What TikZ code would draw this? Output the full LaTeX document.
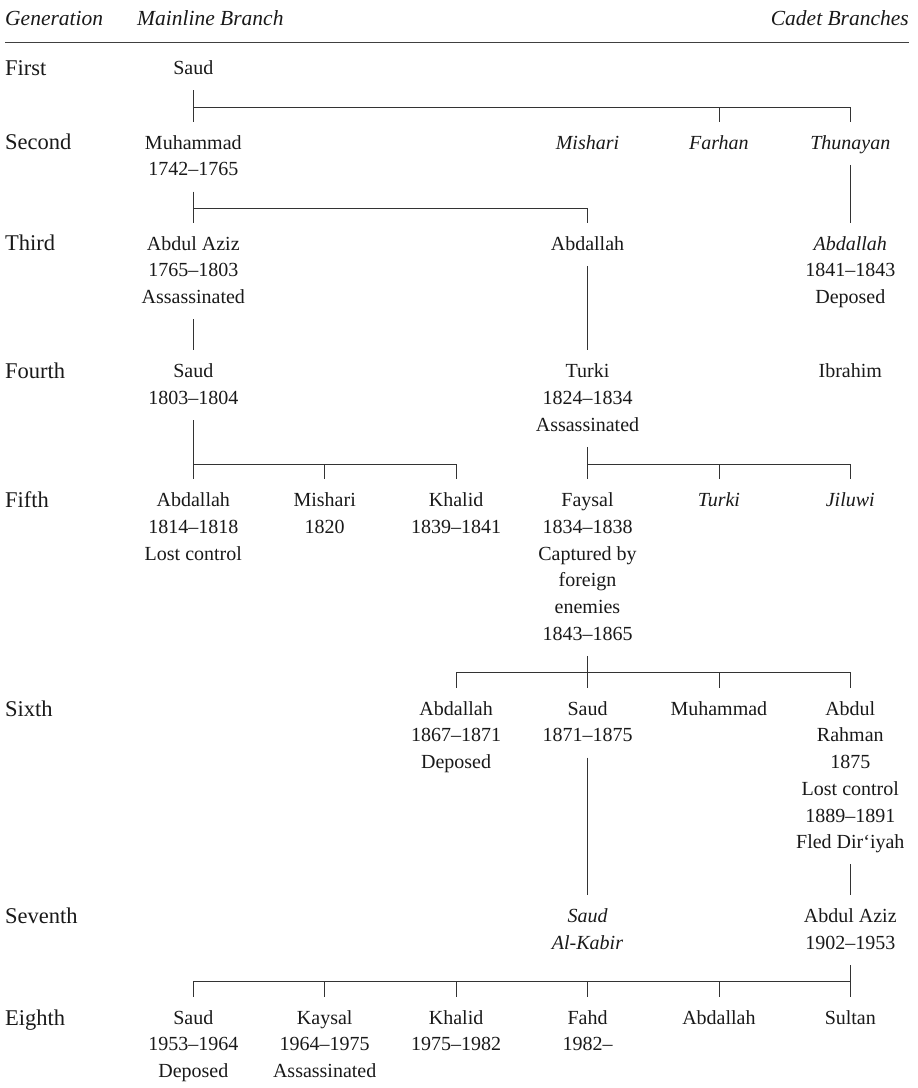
\documentclass[tikz,border=0pt]{standalone}
\usepackage{fontspec}
\setmainfont{Liberation Serif}
\begin{document}
\begin{tikzpicture}[x=1pt,y=-1pt]
\tikzset{
  conn/.style={draw=black!80, line width=0.8pt},
  toprule/.style={draw=black!75, line width=1.4pt},
  person/.style={anchor=north, align=center, inner sep=0pt, yshift=12.2pt,
    font=\fontsize{20}{26.7}\selectfont, text=black!90,
    execute at begin node=\strut, execute at end node=\strut},
  ital/.style={person, font=\fontsize{20}{26.7}\selectfont\itshape},
  gen/.style={person, anchor=north west, align=left, yshift=-0.8pt,
    font=\fontsize{22.5}{26.7}\selectfont},
  head/.style={gen, yshift=0pt, font=\fontsize{21.5}{26.7}\selectfont\itshape},
}
\useasboundingbox (0,0) rectangle (918,1088);
% header
\node[head] (hgen) at (5,18) {Generation};
\node[head] (hmain) at (137,18) {Mainline Branch};
\node[head, anchor=north east] (hcad) at (909,18) {Cadet Branches};
\coordinate (rl) at (5,42.7);
\coordinate (rr) at (909,42.7);
\draw[toprule] (rl) -- (rr);
% generation labels
\node[gen] (g1) at (5,68) {First};
\node[gen] (g2) at (5,142.5) {Second};
\node[gen] (g3) at (5,243.5) {Third};
\node[gen] (g4) at (5,371) {Fourth};
\node[gen] (g5) at (5,500) {Fifth};
\node[gen] (g6) at (5,708.5) {Sixth};
\node[gen] (g7) at (5,916) {Seventh};
\node[gen] (g8) at (5,1017.5) {Eighth};
% people
\node[person] (p11) at (193.3,68) {Saud};
\node[person] (p21) at (193.3,142.5) {\strut Muhammad\\1742--1765\strut};
\node[ital] (p24) at (587.5,142.5) {Mishari};
\node[ital] (p25) at (718.9,142.5) {Farhan};
\node[ital] (p26) at (850.3,142.5) {Thunayan};
\node[person] (p31) at (193.3,243.5) {\strut Abdul Aziz\\1765--1803\\Assassinated\strut};
\node[person] (p34) at (587.5,243.5) {Abdallah};
\node[person] (p36) at (850.3,243.5) {\strut\textit{Abdallah}\\1841--1843\\Deposed\strut};
\node[person] (p41) at (193.3,371) {\strut Saud\\1803--1804\strut};
\node[person] (p44) at (587.5,371) {\strut Turki\\1824--1834\\Assassinated\strut};
\node[person] (p46) at (850.3,371) {Ibrahim};
\node[person] (p51) at (193.3,500) {\strut Abdallah\\1814--1818\\Lost control\strut};
\node[person] (p52) at (324.7,500) {\strut Mishari\\1820\strut};
\node[person] (p53) at (456.1,500) {\strut Khalid\\1839--1841\strut};
\node[person] (p54) at (587.5,500) {\strut Faysal\\1834--1838\\Captured by\\foreign\\enemies\\1843--1865\strut};
\node[ital] (p55) at (718.9,500) {Turki};
\node[ital] (p56) at (850.3,500) {Jiluwi};
\node[person] (p63) at (456.1,708.5) {\strut Abdallah\\1867--1871\\Deposed\strut};
\node[person] (p64) at (587.5,708.5) {\strut Saud\\1871--1875\strut};
\node[person] (p65) at (718.9,708.5) {Muhammad};
\node[person] (p66) at (850.3,708.5) {\strut Abdul\\Rahman\\1875\\Lost control\\1889--1891\\Fled Dir‘iyah\strut};
\node[ital] (p74) at (587.5,916) {\strut Saud\\Al-Kabir\strut};
\node[person] (p76) at (850.3,916) {\strut Abdul Aziz\\1902--1953\strut};
\node[person] (p81) at (193.3,1017.5) {\strut Saud\\1953--1964\\Deposed\strut};
\node[person] (p82) at (324.7,1017.5) {\strut Kaysal\\1964--1975\\Assassinated\strut};
\node[person] (p83) at (456.1,1017.5) {\strut Khalid\\1975--1982\strut};
\node[person] (p84) at (587.5,1017.5) {\strut Fahd\\1982--\strut};
\node[person] (p85) at (718.9,1017.5) {Abdallah};
\node[person] (p86) at (850.3,1017.5) {Sultan};
% bar levels
\coordinate (b1) at (0,107.3);
\coordinate (b2) at (0,208.3);
\coordinate (b4) at (0,464);
\coordinate (b5) at (0,672);
\coordinate (b7) at (0,981.3);
% connectors
\draw[conn] ([yshift=-7.5pt]p11.south) -- ([yshift=8.8pt]p21.north);
\draw[conn] (p11.south |- b1) -- (p26.north |- b1) -- ([yshift=8.8pt]p26.north);
\draw[conn] (p25.north |- b1) -- ([yshift=8.8pt]p25.north);

\draw[conn] ([yshift=-7.5pt]p21.south) -- ([yshift=8.8pt]p31.north);
\draw[conn] (p21.south |- b2) -- (p34.north |- b2) -- ([yshift=8.8pt]p34.north);
\draw[conn] ([yshift=-7.5pt]p26.south) -- ([yshift=8.8pt]p36.north);

\draw[conn] ([yshift=-7.5pt]p31.south) -- ([yshift=8.8pt]p41.north);
\draw[conn] ([yshift=-7.5pt]p34.south) -- ([yshift=8.8pt]p44.north);

\draw[conn] ([yshift=-7.5pt]p41.south) -- ([yshift=8.8pt]p51.north);
\draw[conn] (p41.south |- b4) -- (p53.north |- b4) -- ([yshift=8.8pt]p53.north);
\draw[conn] (p52.north |- b4) -- ([yshift=8.8pt]p52.north);
\draw[conn] ([yshift=-7.5pt]p44.south) -- ([yshift=8.8pt]p54.north);
\draw[conn] (p44.south |- b4) -- (p56.north |- b4) -- ([yshift=8.8pt]p56.north);
\draw[conn] (p55.north |- b4) -- ([yshift=8.8pt]p55.north);

\draw[conn] ([yshift=-7.5pt]p54.south) -- ([yshift=8.8pt]p64.north);
\draw[conn] ([yshift=8.8pt]p63.north) -- (p63.north |- b5) -- (p66.north |- b5) -- ([yshift=8.8pt]p66.north);
\draw[conn] (p65.north |- b5) -- ([yshift=8.8pt]p65.north);

\draw[conn] ([yshift=-7.5pt]p64.south) -- ([yshift=8.8pt]p74.north);
\draw[conn] ([yshift=-7.5pt]p66.south) -- ([yshift=8.8pt]p76.north);

\draw[conn] ([yshift=-7.5pt]p76.south) -- ([yshift=8.8pt]p86.north);
\draw[conn] ([yshift=8.8pt]p81.north) -- (p81.north |- b7) -- (p86.north |- b7);
\draw[conn] (p82.north |- b7) -- ([yshift=8.8pt]p82.north);
\draw[conn] (p83.north |- b7) -- ([yshift=8.8pt]p83.north);
\draw[conn] (p84.north |- b7) -- ([yshift=8.8pt]p84.north);
\draw[conn] (p85.north |- b7) -- ([yshift=8.8pt]p85.north);
\end{tikzpicture}
\end{document}
